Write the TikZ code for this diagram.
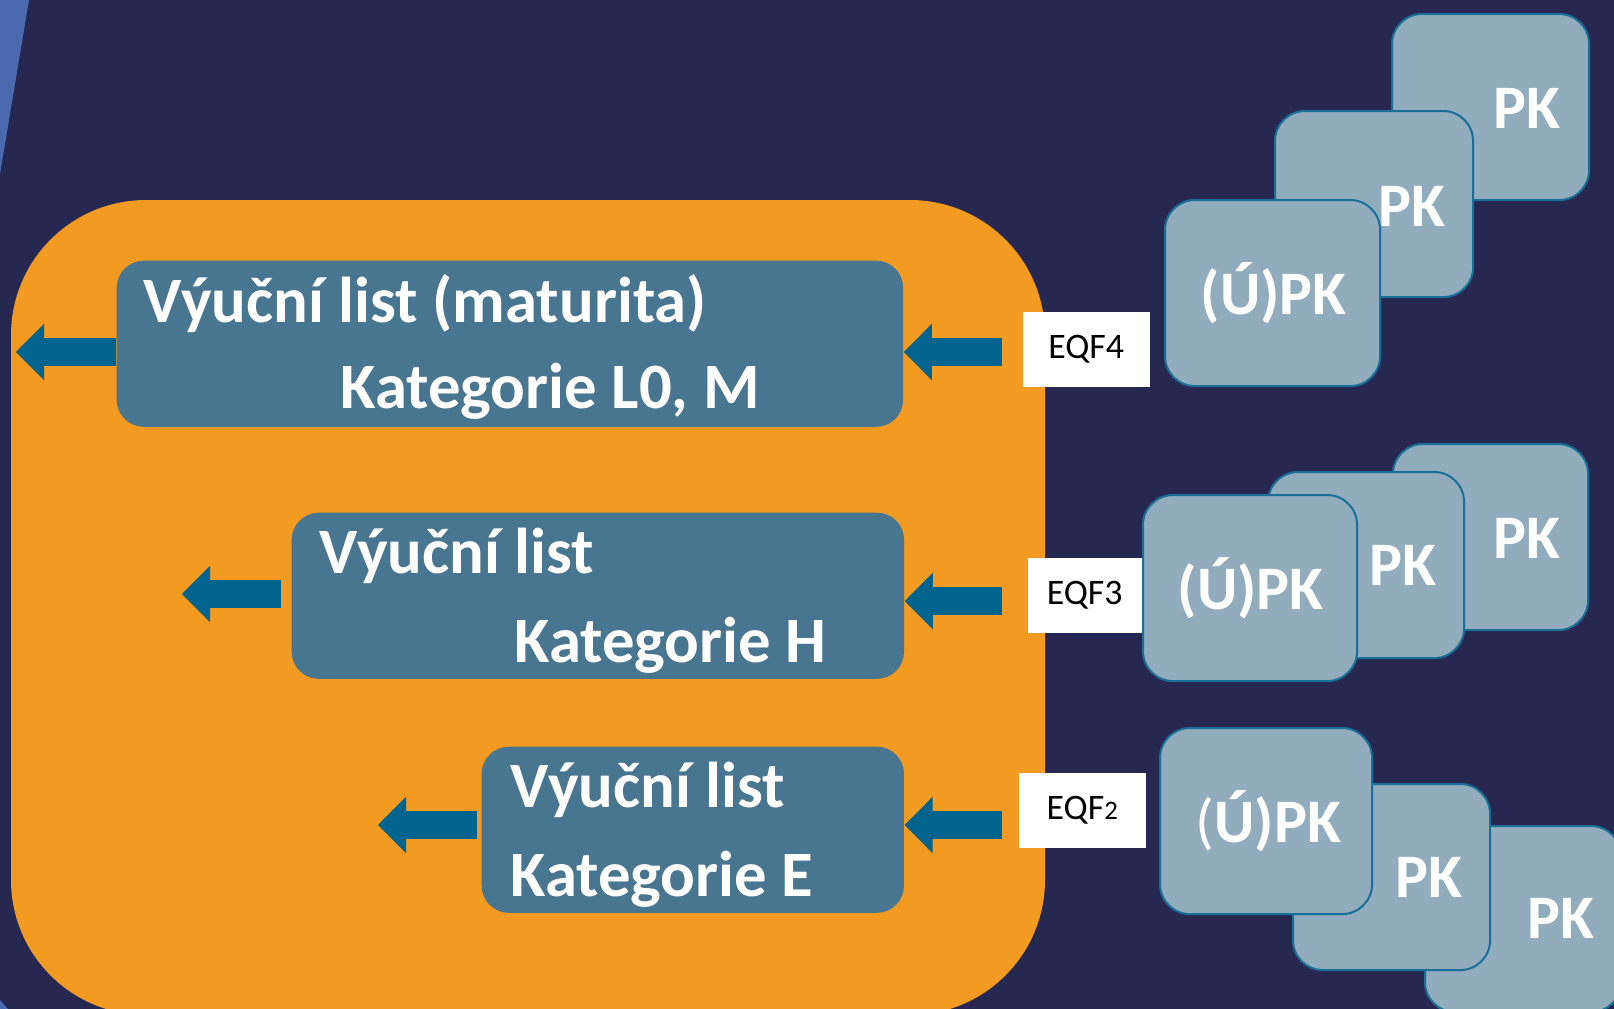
\documentclass[tikz,border=0pt]{standalone}
\usepackage{fontspec}
\setmainfont{Carlito}
\usepackage{tikz}
\usetikzlibrary{arrows.meta}

\definecolor{navy}{RGB}{38,40,82}
\definecolor{stripeblue}{RGB}{74,105,174}
\definecolor{frameorange}{RGB}{243,154,35}
\definecolor{boxblue}{RGB}{72,117,143}
\definecolor{arrowblue}{RGB}{0,100,143}
\definecolor{cardgrey}{RGB}{145,172,189}
\definecolor{cardedge}{RGB}{26,111,150}

\tikzset{
  lvbox/.style = {fill = boxblue, rounded corners = .27cm, anchor = north west, inner sep = 0pt},
  lvtext/.style = {text = white, font = \bfseries\fontsize{18.4}{22}\selectfont, anchor = base west, inner sep = 0pt},
  eqfbox/.style = {fill = white, anchor = north west, inner sep = 0pt, minimum height = .75cm, font = \fontsize{10.2}{12}\selectfont},
  pkcard/.style = {fill = cardgrey, draw = cardedge, line width = .02cm, rounded corners = .3cm, anchor = north west, inner sep = 0pt, minimum height = 1.86cm},
  pktext/.style = {text = white, font = \bfseries\fontsize{17.6}{21}\selectfont, anchor = base west, inner sep = 0pt},
  blockarrow/.style = {draw = arrowblue, line width = .28cm, -{Triangle[length = .28cm, width = .56cm, line width = .02cm]}}
}

\begin{document}
\begin{tikzpicture}[x = .01cm, y = -.01cm]
        \useasboundingbox (0,0) rectangle (1614,1009);
        \fill[navy] (0,0) rectangle (1614,1009);
        \fill[stripeblue] (0,0) -- (29,0) -- (0,174) -- cycle;
        \fill[stripeblue] (0,1000) -- (8,1009) -- (0,1009) -- cycle;
        \fill[frameorange, rounded corners = 1.35cm] (11,200) rectangle (1045,1015);

        \node[lvbox, minimum width = 7.86cm, minimum height = 1.66cm] (box1) at (116,260) {};
        \node[lvbox, minimum width = 6.12cm, minimum height = 1.66cm] (box2) at (291,512) {};
        \node[lvbox, minimum width = 4.22cm, minimum height = 1.66cm] (box3) at (481,746) {};
        \node[lvtext] (box1a) at (143,322) {Výuční list (maturita)};
        \node[lvtext] (box1b) at (340,408) {Kategorie L0, M};
        \node[lvtext] (box2a) at (319,573) {Výuční list};
        \node[lvtext] (box2b) at (514,662) {Kategorie H};
        \node[lvtext] (box3a) at (510,807) {Výuční list};
        \node[lvtext] (box3b) at (510,896) {Kategorie E};

        \node[eqfbox, minimum width = 1.27cm] (eqf4) at (1022,311) {EQF4};
        \node[eqfbox, minimum width = 1.14cm] (eqf3) at (1027,557) {EQF3};
        \node[eqfbox, minimum width = 1.27cm] (eqf2) at (1018,772) {EQF{\fontsize{7.6}{9}\selectfont 2}};

        \coordinate (out1) at (16,352);
        \coordinate (out2) at (182,594);
        \coordinate (out3) at (378,825);
        \coordinate (in1) at (1002,352);
        \coordinate (in2) at (1002,601);
        \coordinate (in3) at (1002,825);
        \draw[blockarrow] (box1.west |- out1) -- (out1);
        \draw[blockarrow, shorten <= .1cm] (box2.west |- out2) -- (out2);
        \draw[blockarrow, shorten <= .04cm] (box3.west |- out3) -- (out3);
        \draw[blockarrow, shorten <= .2cm] (eqf4.west |- in1) -- (box1.east |- in1);
        \draw[blockarrow, shorten <= .25cm] (eqf3.west |- in2) -- (box2.east |- in2);
        \draw[blockarrow, shorten <= .16cm] (eqf2.west |- in3) -- (box3.east |- in3);

        \node[pkcard, minimum width = 1.97cm] (pk4b) at (1391,13) {};
        \node[pktext] (pk4bt) at (1493,128) {PK};
        \node[pkcard, minimum width = 1.98cm] (pk4a) at (1274,110) {};
        \node[pktext] (pk4at) at (1378,226) {PK};
        \node[pkcard, minimum width = 2.15cm] (upk4) at (1164,199) {};
        \node[pktext] (upk4t) at (1200,314) {(Ú)PK};

        \node[pkcard, minimum width = 1.95cm] (pk3b) at (1392,443) {};
        \node[pktext] (pk3bt) at (1493,558) {PK};
        \node[pkcard, minimum width = 1.96cm] (pk3a) at (1267,471) {};
        \node[pktext] (pk3at) at (1369,585) {PK};
        \node[pkcard, minimum width = 2.14cm] (upk3) at (1142,494) {};
        \node[pktext] (upk3t) at (1177,609) {(Ú)PK};

        \node[pkcard, minimum width = 1.96cm] (pk2b) at (1424,825) {};
        \node[pktext] (pk2bt) at (1527,938) {PK};
        \node[pkcard, minimum width = 1.97cm] (pk2a) at (1292,783) {};
        \node[pktext] (pk2at) at (1395,897) {PK};
        \node[pkcard, minimum width = 2.12cm] (upk2) at (1159,727) {};
        \node[pktext] (upk2t) at (1195,842) {{\mdseries(}Ú)PK};
\end{tikzpicture}
\end{document}
